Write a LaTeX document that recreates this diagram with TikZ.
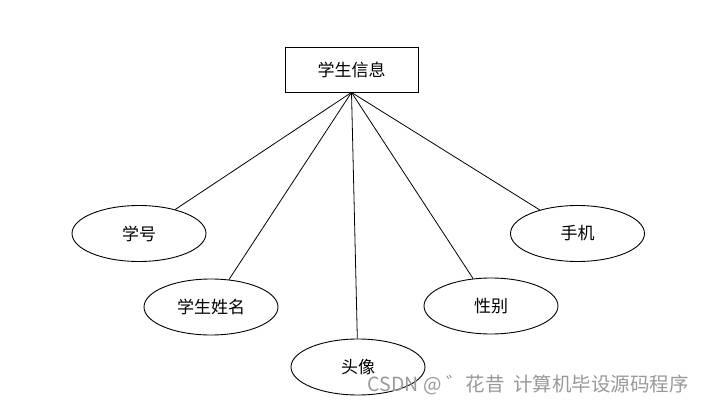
\documentclass[tikz,border=0pt]{standalone}
\usepackage{fontspec}
\setmainfont{Noto Sans CJK SC}
\newfontfamily\cjk{Noto Sans CJK SC}
\usetikzlibrary{shapes.geometric}
\begin{document}
\begin{tikzpicture}[x=1pt,y=-1pt,
  attr/.style={draw=black,line width=0.9pt,ellipse,minimum width=134pt,minimum height=56pt,inner sep=0pt,font=\cjk\fontsize{17}{17}\selectfont},
  ent/.style={draw=black,line width=0.9pt,rectangle,minimum width=133pt,minimum height=45pt,inner sep=0pt,font=\cjk\fontsize{17}{17}\selectfont},
  link/.style={draw=black,line width=0.8pt}]
\useasboundingbox (0,0) rectangle (704,404);
\fill[white] (0,0) rectangle (704,404);
\node[ent] (e) at (351.5,69.5) {学生信息};
\coordinate (apex) at (e.south);
\node[attr] (a1) at (139,233.5) {学号};
\node[attr] (a2) at (211,307) {学生姓名};
\node[attr] (a3) at (358,367) {头像};
\node[attr] (a4) at (491,306) {性别};
\node[attr] (a5) at (577.5,233.5) {手机};
\foreach \n in {a1,a2,a3,a4,a5} \draw[link] (apex) -- (\n);
\node[anchor=east,text=black!40,font=\cjk\fontsize{19.5}{19.5}\selectfont,inner sep=0pt] (wm) at (689,385) {CSDN @ ゛花昔\ \ 计算机毕设源码程序};
\end{tikzpicture}
\end{document}
